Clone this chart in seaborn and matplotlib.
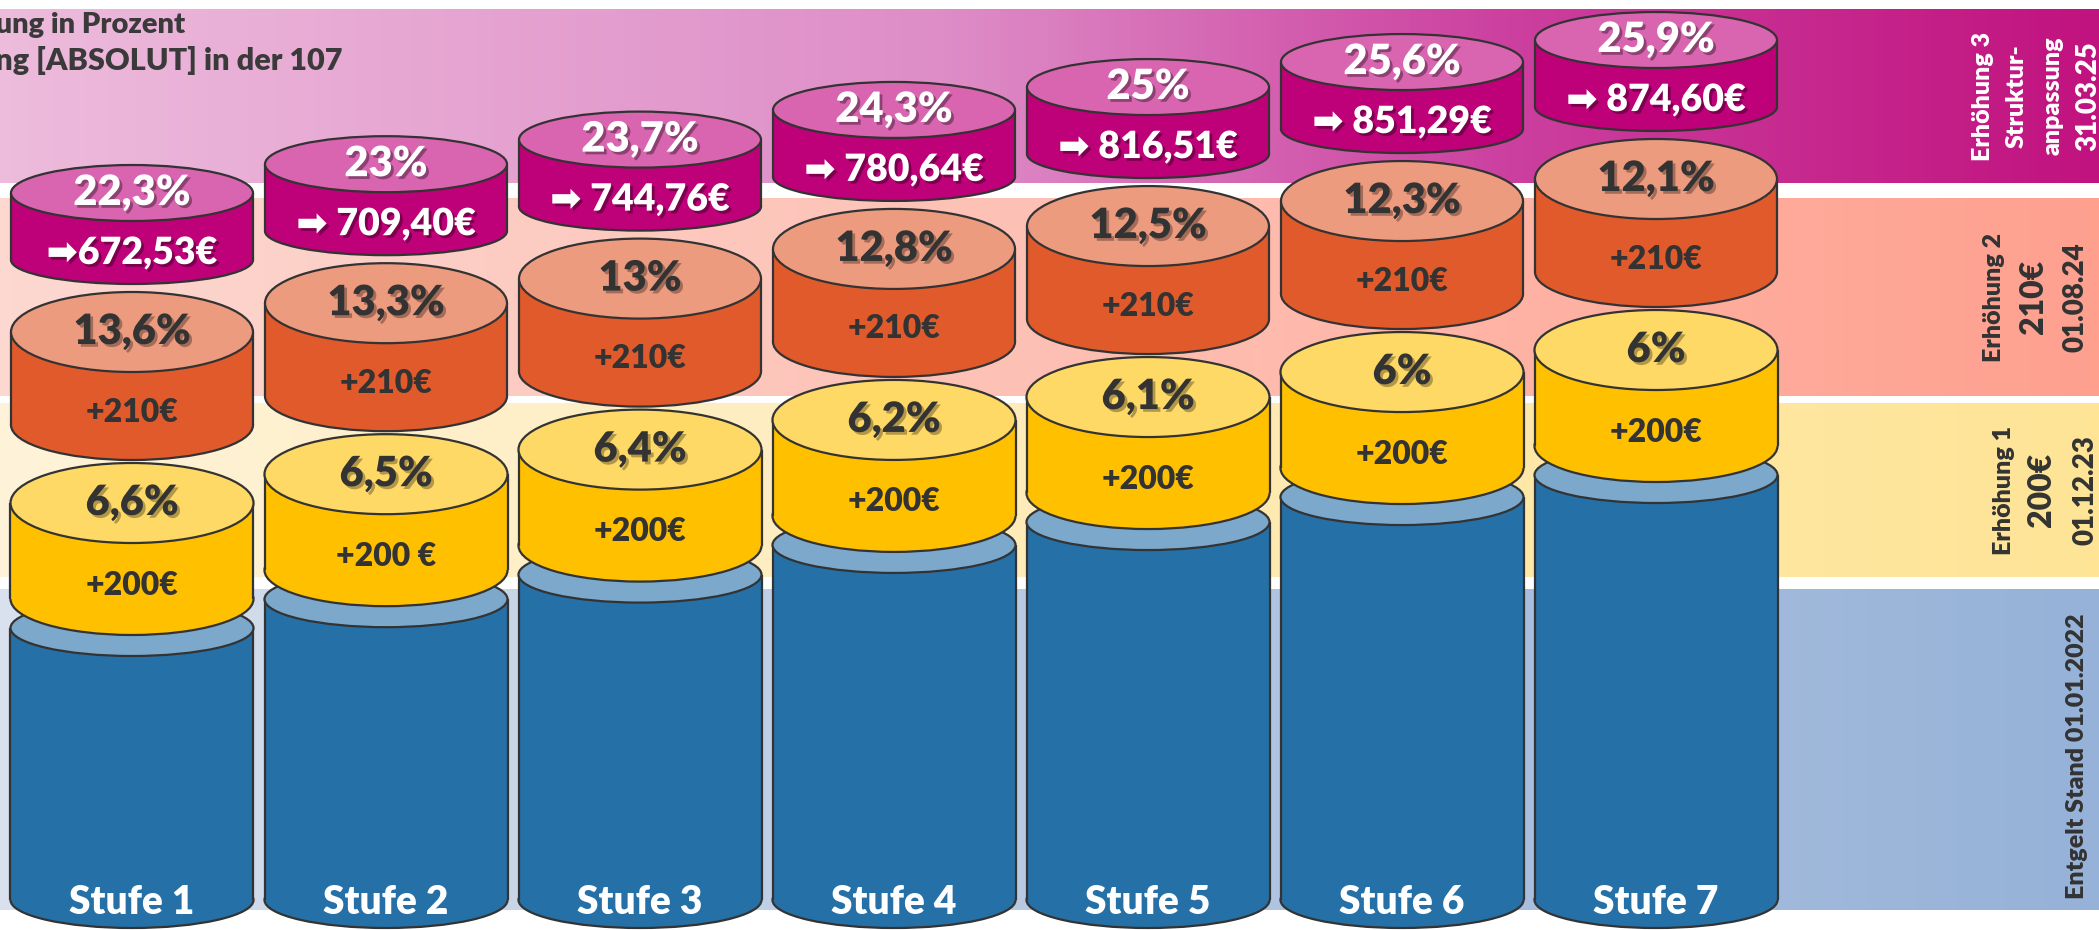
import numpy as np
import pandas as pd
import matplotlib
matplotlib.use("Agg")
import matplotlib.pyplot as plt
import matplotlib.patheffects as pe
from matplotlib.patches import Ellipse
from matplotlib.colors import LinearSegmentedColormap
import seaborn as sns

# DATA
stufen = ["Stufe 1", "Stufe 2", "Stufe 3", "Stufe 4", "Stufe 5", "Stufe 6", "Stufe 7"]
entgelt_2022 = [3016, 3084, 3142, 3212, 3266, 3325, 3377]   # not printed
pct_erh1 = [6.6, 6.5, 6.4, 6.2, 6.1, 6.0, 6.0]
pct_erh2 = [13.6, 13.3, 13.0, 12.8, 12.5, 12.3, 12.1]
pct_erh3 = [22.3, 23.0, 23.7, 24.3, 25.0, 25.6, 25.9]
summe_erh3 = [672.53, 709.40, 744.76, 780.64, 816.51, 851.29, 874.60]
label_erh1 = ["+200€", "+200 €", "+200€", "+200€", "+200€", "+200€", "+200€"]
label_erh2 = ["+210€", "+210€", "+210€", "+210€", "+210€", "+210€", "+210€"]
pfeil_abstand = ["", " ", " ", " ", " ", " ", " "]

# colours
BLAU, BLAU_DECKEL = "#2570A6", "#7BA8CB"
GELB, GELB_DECKEL = "#FFC000", "#FFD966"
ORANGE, ORANGE_DECKEL = "#E05A2B", "#EC9B7F"
LILA, LILA_DECKEL = "#BE0079", "#D964AF"
RAND = "#333333"
TXT = "#333333"
LW = 1.6

# layout: figure pixels -> data (x = category index, y = Euro)
W, H = 2099, 930
PX_PER_EUR = 0.4238
X0, DX = 132, 254

def xd(px):
    return (px - X0) / DX

def yd(py):
    return entgelt_2022[0] + (628 - py) / PX_PER_EUR

def hd(px):
    return px / PX_PER_EUR

def fmt_pct(v):
    if v == int(v):
        return f"{int(v)}%"
    return f"{v:.1f}".replace(".", ",") + "%"

sns.set_theme(style="white")
plt.rcParams["font.family"] = ["Lato", "DejaVu Sans"]

fig = plt.figure(figsize=(W / 100, H / 100), dpi=100)
ax = fig.add_axes([0, 0, 1, 1])

# background bands with horizontal gradient
bands = [
    (9, 183, [(0, "#EDBBDC"), (0.45, "#DE8DC7"), (0.72, "#CC409F"), (1, "#C1137F")]),
    (198, 396, [(0, "#FCD8D1"), (0.6, "#FEBBAE"), (1, "#FFA08F")]),
    (403, 577, [(0, "#FEF3D9"), (1, "#FFE496")]),
    (590, 910, [(0, "#D8E1ED"), (1, "#96B2D8")]),
]
grad = np.linspace(0, 1, 256)[None, :]
for top, bot, stops in bands:
    cmap = LinearSegmentedColormap.from_list("band", stops)
    ax.imshow(grad, cmap=cmap, aspect="auto", interpolation="bilinear",
              extent=[xd(0), xd(W), yd(bot), yd(top)], zorder=0)

x_pos = np.arange(len(stufen))
w = 242 / DX

# stack geometry (pixel sizes of the drawing)
blau_top = np.array(entgelt_2022, dtype=float)
blau_bot = yd(900)
gelb_bot = blau_top + hd(29)
gelb_top = gelb_bot + hd(96)
orange_bot = gelb_top + hd(78)
orange_top = orange_bot + hd(93)
lila_bot = orange_top + hd(72)
lila_top = lila_bot + hd(67)

# base cylinders: seaborn bars, then moved onto the floor
df = pd.DataFrame({"stufe": stufen, "entgelt": entgelt_2022})
n_before = len(ax.patches)
sns.barplot(data=df, x="stufe", y="entgelt", color=BLAU, saturation=1, width=243 / DX,
            errorbar=None, linewidth=0, zorder=2.01, ax=ax)
for bar in ax.patches[n_before:]:
    h = bar.get_height()
    bar.set_y(blau_bot)
    bar.set_height(h - blau_bot)


def zylinder(x, y_bot, y_top, width, ry_top, ry_bot, body, deckel, z, draw_body=True):
    ax.add_patch(Ellipse((x, y_bot), width, 2 * hd(ry_bot), fc=body, ec=RAND, lw=LW, zorder=z))
    if draw_body:
        ax.bar(x, y_top - y_bot, bottom=y_bot, width=width, color=body, linewidth=0, zorder=z + 0.01)
    for sx in (x - width / 2, x + width / 2):
        ax.plot([sx, sx], [y_bot, y_top], color=RAND, lw=LW, zorder=z + 0.02, solid_capstyle="butt")
    ax.add_patch(Ellipse((x, y_top), width, 2 * hd(ry_top), fc=deckel, ec=RAND, lw=LW, zorder=z + 0.03))


shadow_dark = [pe.SimplePatchShadow(offset=(2, -2), shadow_rgbFace="black", alpha=0.3), pe.Normal()]
shadow_light = [pe.SimplePatchShadow(offset=(2, -2), shadow_rgbFace="black", alpha=0.35), pe.Normal()]

for i, x in enumerate(x_pos):
    zylinder(x, blau_bot, blau_top[i], 243 / DX, 28, 28, BLAU, BLAU_DECKEL, 2, draw_body=False)
    zylinder(x, gelb_bot[i], gelb_top[i], 243 / DX, 40, 36, GELB, GELB_DECKEL, 3)
    zylinder(x, orange_bot[i], orange_top[i], w, 40, 35, ORANGE, ORANGE_DECKEL, 4)
    zylinder(x, lila_bot[i], lila_top[i], w, 28, 24, LILA, LILA_DECKEL, 5)

    ax.text(x, gelb_top[i], fmt_pct(pct_erh1[i]), ha="center", va="center", fontsize=30,
            weight="heavy", color=TXT, zorder=10, path_effects=shadow_dark)
    ax.text(x, gelb_bot[i] + hd(14), label_erh1[i], ha="center", va="center", fontsize=23,
            weight="heavy", color=TXT, zorder=10)
    ax.text(x, orange_top[i], fmt_pct(pct_erh2[i]), ha="center", va="center", fontsize=30,
            weight="heavy", color=TXT, zorder=10, path_effects=shadow_dark)
    ax.text(x, orange_bot[i] + hd(13), label_erh2[i], ha="center", va="center", fontsize=23,
            weight="heavy", color=TXT, zorder=10)
    ax.text(x, lila_top[i], fmt_pct(pct_erh3[i]), ha="center", va="center", fontsize=30,
            weight="heavy", color="white", zorder=10, path_effects=shadow_light)
    summe = f"{summe_erh3[i]:.2f}".replace(".", ",")
    ax.text(x, lila_bot[i] + hd(7), f"➡{pfeil_abstand[i]}{summe}€", ha="center", va="center",
            fontsize=27, weight="heavy", color="white", zorder=10, path_effects=shadow_light)
    ax.text(x, yd(902), stufen[i], ha="center", va="center", fontsize=28, weight="heavy",
            color="white", zorder=10)

# headline (cut at the left edge in the original)
ax.text(xd(185), yd(33), "Erhöhung in Prozent", ha="right", va="baseline", fontsize=21,
        weight="heavy", color="#3A3A3A", zorder=10)
ax.text(xd(343), yd(70), "Erhöhung [ABSOLUT] in der 107", ha="right", va="baseline", fontsize=22,
        weight="heavy", color="#3A3A3A", zorder=10)

# right side legend in the bands
seiten_text = [
    (96, "white", [(1983, "Erhöhung 3", 18), (2017, "Struktur-", 18), (2053, "anpassung", 18),
                   (2088, "31.03.25", 20)]),
    (297, TXT, [(1994, "Erhöhung 2", 18), (2033, "210€", 23), (2075, "01.08.24", 20)]),
    (490, TXT, [(2004, "Erhöhung 1", 18), (2042, "200€", 23), (2086, "01.12.23", 20)]),
    (756, TXT, [(2077, "Entgelt Stand 01.01.2022", 18)]),
]
for yc, col, zeilen in seiten_text:
    for xp, txt, fs in zeilen:
        ax.text(xd(xp), yd(yc), txt, rotation=90, ha="center", va="center", fontsize=fs,
                weight="heavy", color=col, zorder=10)

ax.set_xlim(xd(0), xd(W))
ax.set_ylim(yd(H), yd(0))
ax.set_axis_off()

fig.savefig("out.png", dpi=100, facecolor="white")
